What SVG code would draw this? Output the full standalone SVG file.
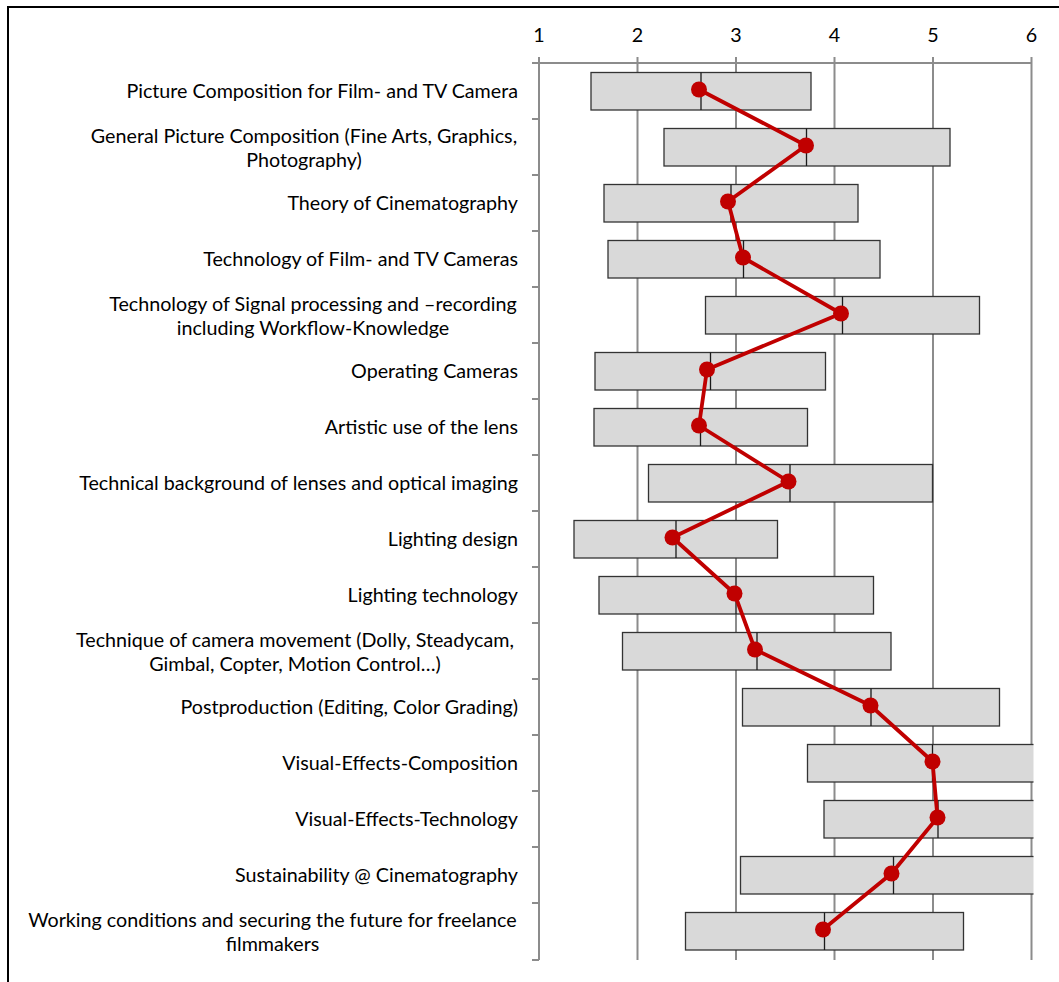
<svg xmlns="http://www.w3.org/2000/svg" width="1059" height="982" viewBox="0 0 1059 982">
<style>
.lbl{font-family:Lato,"Liberation Sans",sans-serif;font-size:19.7px;fill:#000}
.end{text-anchor:end}
.mid{text-anchor:middle}
.grid{stroke:#8c8c8c;stroke-width:2;fill:none}
.bar{fill:#d9d9d9;stroke:#333;stroke-width:1.3}
.med{stroke:#1a1a1a;stroke-width:1.3}
.dot{fill:#c00000}
</style>
<defs>
<clipPath id="plot"><rect x="530" y="55" width="503.5" height="910"/></clipPath>
</defs>
<rect x="0" y="0" width="1059" height="982" fill="#fff"/>
<rect x="8" y="7" width="1200" height="1200" fill="none" stroke="#000" stroke-width="2"/>

<g id="axes">
<path class="grid" d="M539 63V960M637.5 57V960M736 57V960M834.5 57V960M933 57V960M1031.5 57V960M539 57V63M538 63H1032.5"/>
<path class="grid" d="M532 63H539M532 119H539M532 175H539M532 231H539M532 287H539M532 343H539M532 399H539M532 455H539M532 511H539M532 567H539M532 623H539M532 679H539M532 735H539M532 791H539M532 847H539M532 903H539M532 960H539"/>
<text class="lbl mid" x="539" y="42">1</text>
<text class="lbl mid" x="637.5" y="42">2</text>
<text class="lbl mid" x="736" y="42">3</text>
<text class="lbl mid" x="834.5" y="42">4</text>
<text class="lbl mid" x="933" y="42">5</text>
<text class="lbl mid" x="1031.5" y="42">6</text>
</g>

<g id="labels">
<text class="lbl end" x="518" y="98">Picture Composition for Film- and TV Camera</text>
<text class="lbl mid" x="304" y="142.5">General Picture Composition (Fine Arts, Graphics,</text>
<text class="lbl mid" x="304" y="166.5">Photography)</text>
<text class="lbl end" x="518" y="210">Theory of Cinematography</text>
<text class="lbl end" x="518" y="266">Technology of Film- and TV Cameras</text>
<text class="lbl mid" x="313" y="310.5">Technology of Signal processing and –recording</text>
<text class="lbl mid" x="313" y="334.5">including Workflow-Knowledge</text>
<text class="lbl end" x="518" y="378">Operating Cameras</text>
<text class="lbl end" x="518" y="434">Artistic use of the lens</text>
<text class="lbl end" x="518" y="490">Technical background of lenses and optical imaging</text>
<text class="lbl end" x="518" y="546">Lighting design</text>
<text class="lbl end" x="518" y="602">Lighting technology</text>
<text class="lbl mid" x="295" y="646.5">Technique of camera movement (Dolly, Steadycam,</text>
<text class="lbl mid" x="295" y="670.5">Gimbal, Copter, Motion Control…)</text>
<text class="lbl end" x="518" y="714">Postproduction (Editing, Color Grading)</text>
<text class="lbl end" x="518" y="770">Visual-Effects-Composition</text>
<text class="lbl end" x="518" y="826">Visual-Effects-Technology</text>
<text class="lbl end" x="518" y="882">Sustainability @ Cinematography</text>
<text class="lbl mid" x="272.5" y="926.5">Working conditions and securing the future for freelance</text>
<text class="lbl mid" x="272.5" y="950.5">filmmakers</text>
</g>

<g id="bars" clip-path="url(#plot)">
<g id="bar1"><rect class="bar" x="591" y="72.5" width="220" height="37.5"/><path class="med" d="M701 72.5V110"/></g>
<g id="bar2"><rect class="bar" x="664" y="128.5" width="286" height="37.5"/><path class="med" d="M806.5 128.5V166"/></g>
<g id="bar3"><rect class="bar" x="604" y="184.5" width="254" height="37.5"/><path class="med" d="M731 184.5V222"/></g>
<g id="bar4"><rect class="bar" x="608" y="240.5" width="272" height="37.5"/><path class="med" d="M743.5 240.5V278"/></g>
<g id="bar5"><rect class="bar" x="705.5" y="296.5" width="274" height="37.5"/><path class="med" d="M842.5 296.5V334"/></g>
<g id="bar6"><rect class="bar" x="595" y="352.5" width="230.5" height="37.5"/><path class="med" d="M710.5 352.5V390"/></g>
<g id="bar7"><rect class="bar" x="594" y="408.5" width="213.5" height="37.5"/><path class="med" d="M700.5 408.5V446"/></g>
<g id="bar8"><rect class="bar" x="648.5" y="464.5" width="284" height="37.5"/><path class="med" d="M790 464.5V502"/></g>
<g id="bar9"><rect class="bar" x="574" y="520.5" width="203.5" height="37.5"/><path class="med" d="M676 520.5V558"/></g>
<g id="bar10"><rect class="bar" x="599" y="576.5" width="274.5" height="37.5"/><path class="med" d="M736 576.5V614"/></g>
<g id="bar11"><rect class="bar" x="622.5" y="632.5" width="268.5" height="37.5"/><path class="med" d="M757 632.5V670"/></g>
<g id="bar12"><rect class="bar" x="742.5" y="688.5" width="257" height="37.5"/><path class="med" d="M871 688.5V726"/></g>
<g id="bar13"><rect class="bar" x="807.5" y="744.5" width="250" height="37.5"/><path class="med" d="M932.5 744.5V782"/></g>
<g id="bar14"><rect class="bar" x="824" y="800.5" width="250" height="37.5"/><path class="med" d="M938 800.5V838"/></g>
<g id="bar15"><rect class="bar" x="740.5" y="856.5" width="320" height="37.5"/><path class="med" d="M893.5 856.5V894"/></g>
<g id="bar16"><rect class="bar" x="685.5" y="912.5" width="278" height="37.5"/><path class="med" d="M824.5 912.5V950"/></g>
</g>

<g id="connectors">
<polyline fill="none" stroke="#c00000" stroke-width="3.8" stroke-linejoin="round" points="699,89.5 806,145.5 728,201.5 743,257.5 841,313.5 707,369.5 699,425.5 788.5,481.5 672.5,537.5 734.5,593.5 755,649.5 870.5,705.5 932.5,761.5 937.5,817.5 891.5,873.5 823,929.5"/>
</g>

<g id="dots" class="dot">
<circle cx="699" cy="89.5" r="8"/>
<circle cx="806" cy="145.5" r="8"/>
<circle cx="728" cy="201.5" r="8"/>
<circle cx="743" cy="257.5" r="8"/>
<circle cx="841" cy="313.5" r="8"/>
<circle cx="707" cy="369.5" r="8"/>
<circle cx="699" cy="425.5" r="8"/>
<circle cx="788.5" cy="481.5" r="8"/>
<circle cx="672.5" cy="537.5" r="8"/>
<circle cx="734.5" cy="593.5" r="8"/>
<circle cx="755" cy="649.5" r="8"/>
<circle cx="870.5" cy="705.5" r="8"/>
<circle cx="932.5" cy="761.5" r="8"/>
<circle cx="937.5" cy="817.5" r="8"/>
<circle cx="891.5" cy="873.5" r="8"/>
<circle cx="823" cy="929.5" r="8"/>
</g>
</svg>
